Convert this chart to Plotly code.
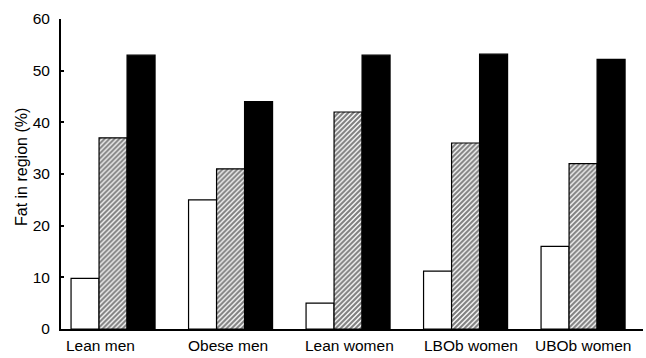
import plotly.graph_objects as go

categories = ["Lean men", "Obese men", "Lean women", "LBOb women", "UBOb women"]
series_white = [9.8, 25.0, 5.0, 11.2, 16.0]
series_hatched = [37.0, 31.0, 42.0, 36.0, 32.0]
series_black = [53.0, 44.0, 53.0, 53.2, 52.2]
y_ticks = [0, 10, 20, 30, 40, 50, 60]
y_title = "Fat in region (%)"

# category label centres (in x-axis units)
label_x = [-0.11, 0.98, 2.01, 3.05, 4.0]

xpos = list(range(len(categories)))
FONT = "Liberation Sans, Arial, sans-serif"
FS = 15.5

fig = go.Figure()
fig.add_trace(go.Bar(x=xpos, y=series_white, marker=dict(color="white", line=dict(color="black", width=1.2))))
fig.add_trace(go.Bar(x=xpos, y=series_hatched,
                     marker=dict(color="white", line=dict(color="black", width=1.2),
                                 pattern=dict(shape="/", fgcolor="black", bgcolor="white", size=3.5, solidity=0.62))))
fig.add_trace(go.Bar(x=xpos, y=series_black, marker=dict(color="black", line=dict(color="black", width=1.2))))

L, R, T, B = 61, 3, 19, 29
fig.update_layout(
    width=646, height=358,
    margin=dict(l=L, r=R, t=T, b=B),
    paper_bgcolor="white", plot_bgcolor="white",
    barmode="group", bargap=0.285, bargroupgap=0,
    showlegend=False,
    font=dict(family=FONT, size=FS, color="black"),
)
fig.update_xaxes(range=[-0.443, 4.51], showticklabels=False, ticks="", showgrid=False, zeroline=False,
                 showline=True, linecolor="black", linewidth=2)
fig.update_yaxes(range=[0, 60], tickvals=y_ticks, ticks="inside", ticklen=3, tickwidth=2, tickcolor="black",
                 showgrid=False, zeroline=False, showline=True, linecolor="black", linewidth=2,
                 ticklabelstandoff=6,
                 tickfont=dict(family=FONT, size=FS, color="black"))

for lx, txt in zip(label_x, categories):
    fig.add_annotation(x=lx, y=0, xref="x", yref="y", text=txt, showarrow=False,
                       xanchor="center", yanchor="top", yshift=-6,
                       font=dict(family=FONT, size=FS, color="black"))

plot_w = 646 - L - R
plot_h = 358 - T - B
fig.add_annotation(x=(21 - L) / plot_w, y=(358 - B - 167) / plot_h, xref="paper", yref="paper",
                   text=y_title, showarrow=False, textangle=-90, xanchor="center", yanchor="middle",
                   font=dict(family=FONT, size=16, color="black"))

fig.write_html("out.html", post_script="document.body.style.margin='0';",
               config={"displayModeBar": False})
